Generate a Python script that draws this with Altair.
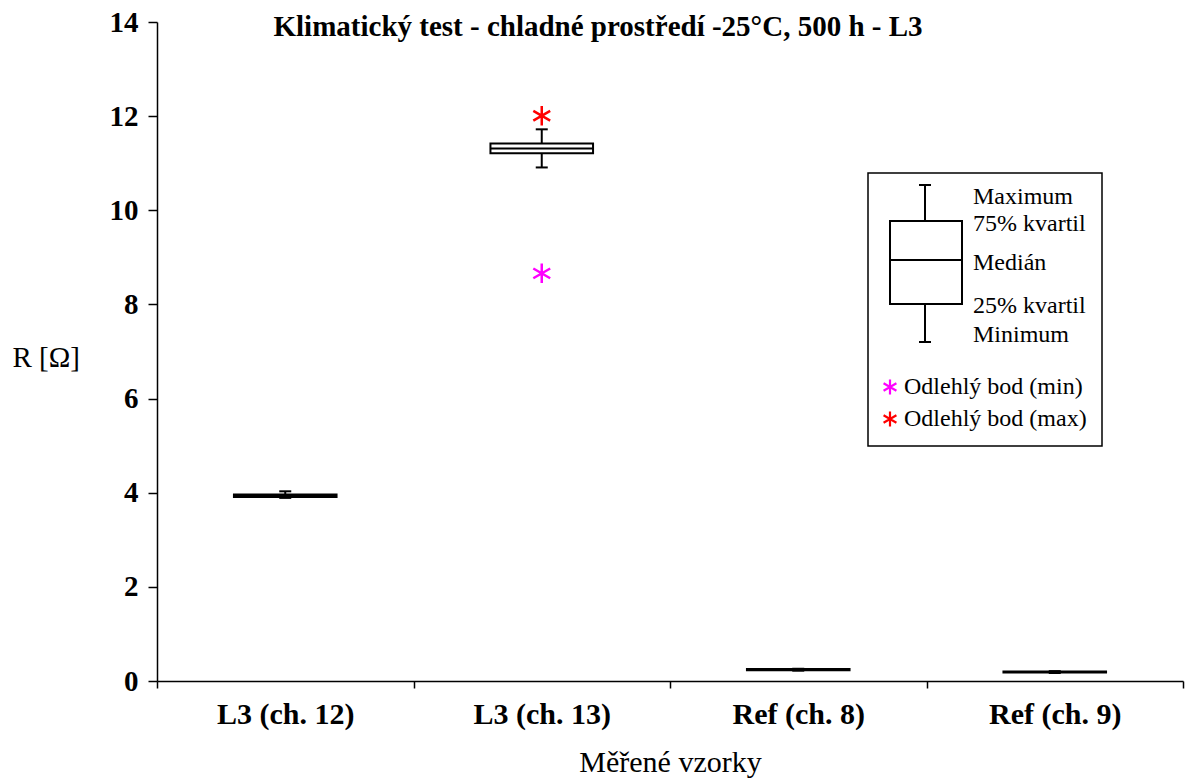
import altair as alt
import pandas as pd

# ---- data ----
categories = ["L3 (ch. 12)", "L3 (ch. 13)", "Ref (ch. 8)", "Ref (ch. 9)"]
minimum = [3.89, 10.91, 0.22, 0.17]
q1 = [3.91, 11.21, 0.23, 0.18]
median = [3.935, 11.31, 0.24, 0.19]
q3 = [3.96, 11.42, 0.255, 0.20]
maximum = [4.03, 11.72, 0.26, 0.21]

outlier_cat = ["L3 (ch. 13)", "L3 (ch. 13)"]
outlier_val = [8.66, 12.01]
outlier_kind = ["min", "max"]

y_ticks = [0, 2, 4, 6, 8, 10, 12, 14]
title_text = "Klimatický test - chladné prostředí -25°C, 500 h - L3"
x_title = "Měřené vzorky"
y_title = "R [Ω]"
legend_box_labels = ["Maximum", "75% kvartil", "Medián", "25% kvartil", "Minimum"]
legend_marker_labels = ["Odlehlý bod (min)", "Odlehlý bod (max)"]

FONT = "Liberation Serif"
ASTERISK = "M0,-1L0,1M-0.866,-0.5L0.866,0.5M-0.866,0.5L0.866,-0.5"

df = pd.DataFrame({"cat": categories, "min": minimum, "q1": q1,
                   "med": median, "q3": q3, "max": maximum})
out = pd.DataFrame({"cat": outlier_cat, "val": outlier_val, "kind": outlier_kind})

xenc = alt.X("cat:N", sort=categories, title=x_title,
             scale=alt.Scale(paddingInner=0, paddingOuter=0),
             axis=alt.Axis(labelAngle=0, tickBand="extent", labelFontSize=30,
                           labelFontWeight="bold", labelFont=FONT, labelColor="black",
                           labelPadding=11, tickSize=7, tickColor="black", tickWidth=1.5,
                           domainColor="black", domainWidth=1.5,
                           titleFont=FONT, titleFontSize=30, titleFontWeight="normal",
                           titleColor="black", titlePadding=18))
yscale = alt.Scale(domain=[0, 14], nice=False, zero=True)
yaxis = alt.Axis(values=y_ticks, grid=False, labelFontSize=29, labelFontWeight="bold",
                 labelFont=FONT, labelColor="black", labelPadding=10, tickSize=9,
                 tickColor="black", tickWidth=1.5, domainColor="black", domainWidth=1.5,
                 title=y_title, titleAngle=0, titleFont=FONT, titleFontSize=29,
                 titleFontWeight="normal", titleColor="black", titleX=-145, titleY=335,
                 titleAlign="left", titleBaseline="middle")

base = alt.Chart(df)
whisker = base.mark_rule(color="black", strokeWidth=2).encode(
    x=xenc, y=alt.Y("min:Q", scale=yscale, axis=yaxis), y2="max:Q")
box = base.mark_bar(width=alt.RelativeBandSize(0.4), fill="white", stroke="black",
                    strokeWidth=2).encode(x=alt.X("cat:N", sort=categories), y="q1:Q", y2="q3:Q")
med = base.mark_tick(size=102, thickness=2, color="black", opacity=1).encode(
    x=alt.X("cat:N", sort=categories), y="med:Q")
cap_hi = base.mark_tick(size=12, thickness=2, color="black", opacity=1).encode(
    x=alt.X("cat:N", sort=categories), y="max:Q")
cap_lo = base.mark_tick(size=12, thickness=2, color="black", opacity=1).encode(
    x=alt.X("cat:N", sort=categories), y="min:Q")
outl = alt.Chart(out).mark_point(shape=ASTERISK, filled=False, size=380, strokeWidth=2.5,
                                 opacity=1).encode(
    x=alt.X("cat:N", sort=categories), y="val:Q",
    color=alt.Color("kind:N", scale=alt.Scale(domain=["min", "max"], range=["#ff00ff", "#ff0000"]),
                    legend=None))

title = alt.Chart(pd.DataFrame({"t": [title_text]})).mark_text(
    font=FONT, fontSize=29, fontWeight="bold", color="black", baseline="middle", align="center"
).encode(text="t:N", x=alt.value(441), y=alt.value(5))

# ---- hand-drawn legend (pixel layout) ----
def v(n):
    return alt.value(n)

one = pd.DataFrame({"a": [0]})
lg_frame = alt.Chart(one).mark_rect(fill="white", stroke="black", strokeWidth=1.5).encode(
    x=v(711), x2=v(945), y=v(151), y2=v(424))
lg_box = alt.Chart(one).mark_rect(fill="white", stroke="black", strokeWidth=2).encode(
    x=v(733), x2=v(805), y=v(199), y2=v(282))
lg_w1 = alt.Chart(one).mark_rule(color="black", strokeWidth=2).encode(x=v(768), y=v(163), y2=v(199))
lg_w2 = alt.Chart(one).mark_rule(color="black", strokeWidth=2).encode(x=v(768), y=v(282), y2=v(320))
lg_c1 = alt.Chart(one).mark_rule(color="black", strokeWidth=2).encode(x=v(762), x2=v(774), y=v(163))
lg_c2 = alt.Chart(one).mark_rule(color="black", strokeWidth=2).encode(x=v(762), x2=v(774), y=v(320))
lg_md = alt.Chart(one).mark_rule(color="black", strokeWidth=2).encode(x=v(733), x2=v(805), y=v(238))

lg_texts = []
for lab, yy in zip(legend_box_labels, [175, 202, 241, 284, 313]):
    lg_texts.append(alt.Chart(one).mark_text(font=FONT, fontSize=24, align="left",
                                             baseline="middle", color="black",
                                             text=lab).encode(x=v(816), y=v(yy)))
for lab, yy, col in zip(legend_marker_labels, [365, 397], ["#ff00ff", "#ff0000"]):
    lg_texts.append(alt.Chart(one).mark_point(shape=ASTERISK, filled=False, size=220,
                                              strokeWidth=2.2, color=col, opacity=1).encode(
        x=v(733), y=v(yy)))
    lg_texts.append(alt.Chart(one).mark_text(font=FONT, fontSize=24, align="left",
                                             baseline="middle", color="black",
                                             text=lab).encode(x=v(747), y=v(yy)))

chart = alt.layer(whisker, box, med, cap_hi, cap_lo, outl, title,
                  lg_frame, lg_box, lg_w1, lg_w2, lg_c1, lg_c2, lg_md, *lg_texts).properties(
    width=1026, height=659, autosize="none",
    padding={"left": 157, "top": 22, "right": 5, "bottom": 102},
    background="white"
).configure_view(stroke=None)

chart.save("out.html", embed_options={"renderer": "svg", "actions": False})
